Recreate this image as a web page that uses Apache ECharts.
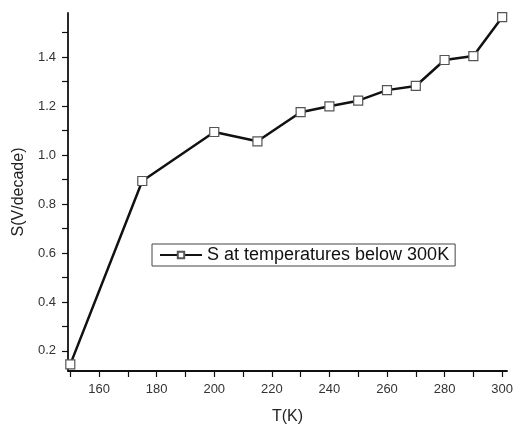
<!DOCTYPE html>
<html><head><meta charset="utf-8">
<script src="https://cdn.jsdelivr.net/npm/echarts@6/dist/echarts.min.js"></script>
<style>html,body{margin:0;padding:0;background:#fff}#c{width:516px;height:430px}</style>
</head><body><div id="c"></div>
<script>
const temps = [150, 175, 200, 215, 230, 240, 250, 260, 270, 280, 290, 300];
const sValues = [0.145, 0.894, 1.094, 1.056, 1.175, 1.199, 1.222, 1.265, 1.282, 1.388, 1.404, 1.563];
const xLabels = [160, 180, 200, 220, 240, 260, 280, 300];
const xTicks = [150, 160, 170, 180, 190, 200, 210, 220, 230, 240, 250, 260, 270, 280, 290, 300];
const yLabels = [0.2, 0.4, 0.6, 0.8, 1.0, 1.2, 1.4];
const yTicks = [0.2, 0.3, 0.4, 0.5, 0.6, 0.7, 0.8, 0.9, 1.0, 1.1, 1.2, 1.3, 1.4, 1.5];
const seriesName = 'S at temperatures below 300K';

const font = 'Liberation Sans, Arial, sans-serif';
const chart = echarts.init(document.getElementById('c'), null, {renderer: 'canvas'});
chart.setOption({
  animation: false,
  backgroundColor: '#fff',
  grid: {left: 68, right: 6, top: 13, bottom: 59, containLabel: false},
  legend: {
    left: 152, top: 244,
    data: [seriesName],
    borderColor: '#444', borderWidth: 1, padding: [1, 6, 1, 7],
    itemWidth: 42, itemHeight: 8, itemGap: 4,
    textStyle: {fontFamily: font, fontSize: 18, lineHeight: 20, color: '#111'}
  },
  xAxis: {
    type: 'value', min: 149.2, max: 301.7,
    name: 'T(K)', nameLocation: 'middle', nameGap: 38,
    nameTextStyle: {fontFamily: font, fontSize: 16, color: '#222'},
    axisLine: {show: true, lineStyle: {color: '#111', width: 1.8}},
    axisTick: {show: true, inside: false, length: 6, customValues: xTicks, lineStyle: {color: '#111', width: 1.2}},
    axisLabel: {customValues: xLabels, fontFamily: font, fontSize: 13, color: '#333', margin: 12},
    splitLine: {show: false}
  },
  yAxis: {
    type: 'value', min: 0.118, max: 1.58,
    name: 'S(V/decade)', nameLocation: 'middle', nameGap: 40,
    nameTextStyle: {fontFamily: font, fontSize: 16, color: '#222'},
    axisLine: {show: true, lineStyle: {color: '#111', width: 1.8}},
    axisTick: {show: true, inside: false, length: 6, customValues: yTicks, lineStyle: {color: '#111', width: 1.2}},
    axisLabel: {customValues: yLabels, fontFamily: font, fontSize: 13, color: '#333', margin: 12,
      formatter: v => v.toFixed(1)},
    splitLine: {show: false}
  },
  series: [{
    name: seriesName,
    type: 'line',
    data: temps.map((t, i) => [t, sValues[i]]),
    symbol: 'rect', symbolSize: 9, showAllSymbol: true,
    lineStyle: {color: '#111', width: 2.5},
    itemStyle: {color: '#fff', borderColor: '#555', borderWidth: 1.2},
    z: 3
  }]
});
</script></body></html>
